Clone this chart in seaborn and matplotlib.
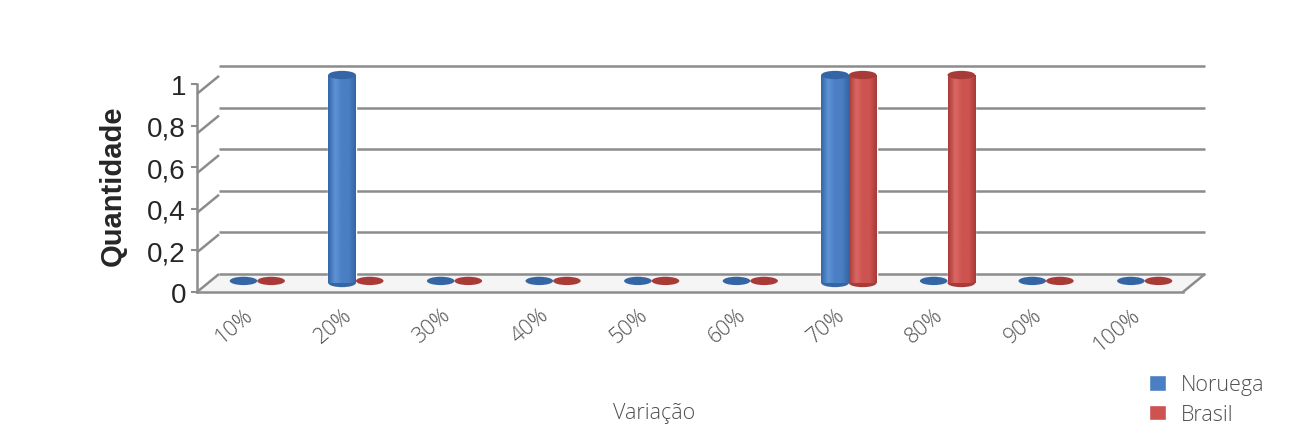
import numpy as np
import pandas as pd
import matplotlib.pyplot as plt
import matplotlib.transforms as mtransforms
from matplotlib.colors import LinearSegmentedColormap
from matplotlib.patches import Ellipse, Polygon
import seaborn as sns

# Dados
categorias = ['10%', '20%', '30%', '40%', '50%', '60%', '70%', '80%', '90%', '100%']
noruega = [0, 1, 0, 0, 0, 0, 1, 0, 0, 0]
brasil = [0, 0, 0, 0, 0, 0, 1, 1, 0, 0]
series = ['Noruega', 'Brasil']
yticks = [0, 0.2, 0.4, 0.6, 0.8, 1]
ytick_labels = ['0', '0,2', '0,4', '0,6', '0,8', '1']

cores = {'Noruega': '#4A7FC4', 'Brasil': '#CC5350'}
escuras = {'Noruega': '#3466A6', 'Brasil': '#A83A37'}
claras = {'Noruega': '#5E93D6', 'Brasil': '#DA6763'}

sns.set_theme(style='white')
plt.rcParams['font.family'] = ['Open Sans', 'DejaVu Sans']

df = pd.DataFrame({
    'Variação': categorias * 2,
    'Quantidade': noruega + brasil,
    'Série': ['Noruega'] * len(categorias) + ['Brasil'] * len(categorias),
})

W, H = 1290, 439
fig = plt.figure(figsize=(W / 100, H / 100), dpi=100)

# plano das barras (pixels)
x0, x1, y0, y1 = 208, 1194, 284, 76
dx, dy = 11, 9  # deslocamento da perspectiva
ax = fig.add_axes([x0 / W, 1 - y0 / H, (x1 - x0) / W, (y0 - y1) / H])
ax.patch.set_alpha(0)

sns.barplot(data=df, x='Variação', y='Quantidade', hue='Série', hue_order=series,
            palette=cores, width=0.56, saturation=1, ax=ax, zorder=3)
bars = [p for p in ax.patches if p.get_width() < 1]

tr_back = ax.get_yaxis_transform() + mtransforms.ScaledTranslation(dx / 100, dy / 100, fig.dpi_scale_trans)
tr_front = ax.get_yaxis_transform() + mtransforms.ScaledTranslation(-dx / 100, -dy / 100, fig.dpi_scale_trans)
ident = mtransforms.IdentityTransform()
grid_kw = dict(color='#8C8C8C', lw=1.8, clip_on=False, zorder=1, solid_capstyle='butt')

# chão
floor_pts = np.vstack([
    tr_front.transform([(0, 0), (1, 0)]),
    tr_back.transform([(1, 0), (0, 0)]),
])
ax.add_patch(Polygon(floor_pts, closed=True, transform=ident, facecolor='#F5F5F5',
                     edgecolor='none', zorder=0.5, clip_on=False))

# grade na parede do fundo + ligações em perspectiva
for yv in yticks:
    ax.plot([0, 1], [yv, yv], transform=tr_back, **grid_kw)
    p_f = tr_front.transform((0, yv))
    p_b = tr_back.transform((0, yv))
    ax.plot([p_f[0], p_b[0]], [p_f[1], p_b[1]], transform=ident, **grid_kw)
p_f = tr_front.transform((1, 0))
p_b = tr_back.transform((1, 0))
ax.plot([p_f[0], p_b[0]], [p_f[1], p_b[1]], transform=ident, **grid_kw)

# cilindros
e_h = 0.04
n = len(categorias)
for i, bar in enumerate(bars[:2 * n]):
    serie = series[i // n]
    cx = bar.get_x() + bar.get_width() / 2
    w = bar.get_width()
    h = bar.get_height()
    if h > 0:
        cmap = LinearSegmentedColormap.from_list(
            'cil', [escuras[serie], claras[serie], cores[serie], cores[serie], escuras[serie]])
        grad = np.linspace(0, 1, 64).reshape(1, -1)
        im = ax.imshow(grad, cmap=cmap, extent=[bar.get_x(), bar.get_x() + w, 0, h],
                       aspect='auto', zorder=3.1, interpolation='bilinear')
        im.set_clip_path(bar)
        ax.add_patch(Ellipse((cx, 0), w, e_h, facecolor=escuras[serie], edgecolor='none',
                             zorder=2.9, clip_on=False))
        ax.add_patch(Ellipse((cx, h), w, e_h, facecolor=escuras[serie], edgecolor='none',
                             zorder=3.2, clip_on=False))
    else:
        ax.add_patch(Ellipse((cx, 0.01), w, e_h, facecolor=escuras[serie], edgecolor='none',
                             zorder=3.2, clip_on=False))

ax.set_xlim(-0.5, n - 0.5)
ax.set_ylim(0, 1)
ax.set_yticks([])
ax.set_ylabel('')
sns.despine(ax=ax, left=True, bottom=True)
ax.tick_params(axis='x', length=0, pad=21, labelsize=15.5, labelcolor='#505050')
shift = mtransforms.ScaledTranslation(-7 / 100, 0, fig.dpi_scale_trans)
for lab in ax.get_xticklabels():
    lab.set_rotation(40)
    lab.set_ha('right')
    lab.set_va('center')
    lab.set_rotation_mode('anchor')
    lab.set_fontweight('light')
    lab.set_transform(lab.get_transform() + shift)

ax.set_xlabel('Variação', fontsize=15.5, color='#505050', fontweight='light')
ax.xaxis.set_label_coords((654 - x0) / (x1 - x0), (y0 - 413) / (y0 - y1))
ax.xaxis.label.set_va('center')

sns.move_legend(ax, 'upper left', bbox_to_anchor=((1130 - x0) / (x1 - x0), (y0 - 356) / (y0 - y1)),
                title=None, frameon=False, fontsize=15.5, handlelength=0.75, handleheight=0.75,
                handletextpad=0.7, labelspacing=0.4)
for t in ax.get_legend().get_texts():
    t.set_color('#505050')
    t.set_fontweight('light')

# eixo frontal
axf = fig.add_axes([(x0 - dx) / W, 1 - (y0 + dy) / H, (x1 - x0) / W, (y0 - y1) / H])
axf.patch.set_alpha(0)
axf.set_ylim(0, 1)
axf.set_xlim(0, 1)
axf.set_xticks([])
axf.set_yticks(yticks)
axf.set_yticklabels(ytick_labels, fontfamily='Liberation Sans', fontsize=20)
axf.tick_params(axis='y', length=4, width=1.5, color='#8C8C8C', pad=4, left=True)
for s in ['top', 'right']:
    axf.spines[s].set_visible(False)
for s in ['left', 'bottom']:
    axf.spines[s].set_color('#8C8C8C')
    axf.spines[s].set_linewidth(1.8)
axf.set_ylabel('Quantidade', fontfamily='Liberation Sans', fontsize=21, fontweight='bold')
axf.yaxis.set_label_coords((113 - (x0 - dx)) / (x1 - x0), 0.514)
axf.yaxis.label.set_va('center')

fig.savefig('out.png', dpi=100, facecolor='white')
